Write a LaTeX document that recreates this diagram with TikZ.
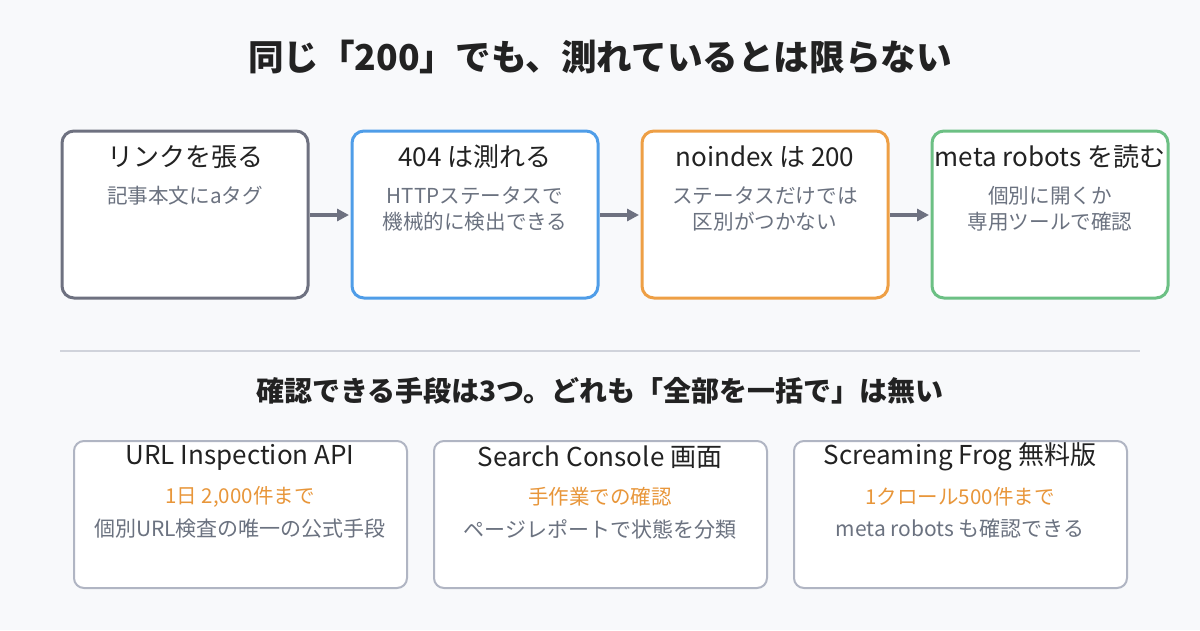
\documentclass[tikz,border=0pt]{standalone}
\usepackage{fontspec}
\setmainfont{Noto Sans CJK JP}
\usetikzlibrary{arrows.meta}
\definecolor{bg}{HTML}{F8F9FB}
\definecolor{txt}{HTML}{222222}
\definecolor{sub}{HTML}{6B7280}
\definecolor{cgray}{HTML}{6E7180}
\definecolor{cblue}{HTML}{4F9DE8}
\definecolor{corange}{HTML}{EE9F45}
\definecolor{cgreen}{HTML}{6CC084}
\definecolor{lgray}{HTML}{B0B5C3}
\definecolor{org}{HTML}{E8963A}
\begin{document}
\begin{tikzpicture}[x=1pt,y=-1pt,
 top/.style={draw=#1,line width=3pt,rounded corners=12pt,fill=white},
 bot/.style={draw=lgray,line width=2pt,rounded corners=10pt,fill=white},
 ttl/.style={font=\fontsize{26}{30}\selectfont,text=txt,anchor=center},
 sb/.style={font=\fontsize{20.6}{26}\selectfont,text=sub,align=center,anchor=north},
 ol/.style={font=\fontsize{20.5}{24}\selectfont,text=org},
 gl/.style={font=\fontsize{21}{24}\selectfont,text=sub},
 arr/.style={-{Triangle[length=12pt,width=12pt]},line width=4pt,draw=cgray}]
\fill[bg] (0,0) rectangle (1200,630);
\node[font=\bfseries\fontsize{35.6}{40}\selectfont,text=txt] (title) at (600,57) {同じ「200」でも、測れているとは限らない};
\foreach \n/\x/\w/\c in {a/62/246/cgray,b/352/246/cblue,c/642/246/corange,d/932/236/cgreen}{
  \draw[top=\c] (\x,131) rectangle ++(\w,167);
  \coordinate (\n L) at (\x,215);
  \coordinate (\n R) at ({\x+\w},215);
}
\node[ttl] (t1) at (185,157) {リンクを張る};
\node[sb] (s1) at (185,183) {記事本文にaタグ};
\node[ttl] (t2) at (475,157) {404 は測れる};
\node[sb] (s2) at (475,183) {HTTPステータスで\\機械的に検出できる};
\node[ttl] (t3) at (765,157) {noindex は 200};
\node[sb] (s3) at (765,183) {ステータスだけでは\\区別がつかない};
\node[ttl] (t4) at (1050,157) {meta robots を読む};
\node[sb] (s4) at (1050,183) {個別に開くか\\専用ツールで確認};
\draw[arr] ([xshift=2pt]aR) -- ([xshift=-3pt]bL);
\draw[arr] ([xshift=2pt]bR) -- ([xshift=-3pt]cL);
\draw[arr] ([xshift=2pt]cR) -- ([xshift=-3pt]dL);
\draw[draw=lgray!60,line width=1.5pt] (60,351) coordinate (sepL) -- (1140,351) coordinate (sepR);
\node[font=\bfseries\fontsize{28}{32}\selectfont,text=txt] (sub) at (600,391) {確認できる手段は3つ。どれも「全部を一括で」は無い};
\foreach \x in {74,434,794}{\draw[bot] (\x,441) rectangle ++(333,147);}
\node[ttl] (u1) at (240,457) {URL Inspection API};
\node[ol] (o1) at (240,497) {1日 2,000件まで};
\node[gl] (g1) at (240,529) {個別URL検査の唯一の公式手段};
\node[ttl] (u2) at (600,457) {Search Console 画面};
\node[ol] (o2) at (600,497) {手作業での確認};
\node[gl] (g2) at (600,529) {ページレポートで状態を分類};
\node[ttl] (u3) at (960,457) {Screaming Frog 無料版};
\node[ol] (o3) at (960,497) {1クロール500件まで};
\node[gl] (g3) at (960,529) {meta robots も確認できる};
\end{tikzpicture}
\end{document}
